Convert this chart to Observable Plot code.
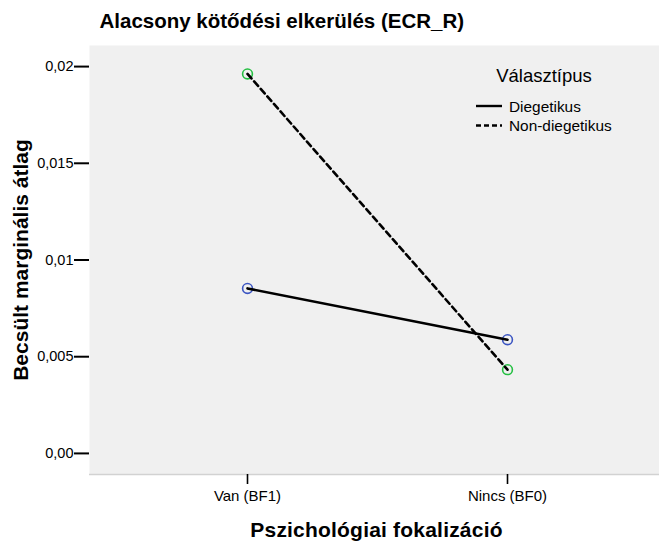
<!DOCTYPE html>
<html>
<head>
<meta charset="utf-8">
<script src="https://cdn.jsdelivr.net/npm/d3@7"></script>
<script src="https://cdn.jsdelivr.net/npm/@observablehq/plot@0.6"></script>
<style>
  body { margin: 0; background: #fff; font-family: "Liberation Sans", Arial, sans-serif; }
  #wrap { position: relative; width: 659px; height: 545px; }
  #legend { position: absolute; left: 0; top: 0; width: 659px; height: 545px; pointer-events: none; }
</style>
</head>
<body>
<div id="wrap"></div>
<script>
const title = "Alacsony kötődési elkerülés (ECR_R)";
const xLabel = "Pszichológiai fokalizáció";
const yLabel = "Becsült marginális átlag";
const legendTitle = "Választípus";
const categories = ["Van (BF1)", "Nincs (BF0)"];
const seriesNames = ["Diegetikus", "Non-diegetikus"];
const diegetikus = [0.00853, 0.00588];
const nonDiegetikus = [0.01962, 0.00433];
const yTicks = [0, 0.005, 0.01, 0.015, 0.02];
const yTickLabels = ["0,00", "0,005", "0,01", "0,015", "0,02"];
const yDomain = [-0.00109, 0.02109];
const seriesColors = ["#3b55c2", "#24bf42"];
const seriesDash = [null, "6,4"];

const rows = [];
categories.forEach((c, i) => {
  rows.push({cat: c, series: seriesNames[0], value: diegetikus[i]});
  rows.push({cat: c, series: seriesNames[1], value: nonDiegetikus[i]});
});

const font = "Liberation Sans, Arial, sans-serif";

const chart = Plot.plot({
  width: 659,
  height: 545,
  marginLeft: 89,
  marginRight: 0,
  marginTop: 45,
  marginBottom: 71,
  style: {fontFamily: font, background: "#fff", color: "#000"},
  x: {type: "point", domain: categories, range: [247, 507], padding: 0},
  y: {domain: yDomain},
  color: {domain: seriesNames, range: seriesColors},
  marks: [
    Plot.frame({fill: "#f0f0f0", stroke: null}),
    Plot.ruleY([yDomain[0]], {stroke: "#d2d2d2", strokeWidth: 1.5}),
    Plot.axisY({ticks: yTicks, tickFormat: (d) => yTickLabels[yTicks.indexOf(d)], tickSize: 15, tickPadding: 1, fontSize: 14.5, strokeWidth: 2, label: null}),
    Plot.axisX({ticks: categories, tickSize: 10, tickPadding: 6, fontSize: 15, strokeWidth: 1.6, label: null}),
    Plot.dot(rows, {x: "cat", y: "value", stroke: "series", r: 4.9, strokeWidth: 1.6, fill: "none"}),
    ...seriesNames.map((s, i) => Plot.line(rows.filter(d => d.series === s), {
      x: "cat", y: "value", stroke: "#000", strokeWidth: 2.6, strokeDasharray: seriesDash[i]
    })),
    Plot.text([title], {frameAnchor: "top-left", dx: 10, dy: -17.7, lineAnchor: "bottom", textAnchor: "start", fontSize: 20.5, fontWeight: "bold", fill: "#000"}),
    Plot.text([yLabel], {frameAnchor: "left", dx: -68.4, rotate: -90, textAnchor: "middle", fontSize: 21, fontWeight: "bold", fill: "#000"}),
    Plot.text([xLabel], {frameAnchor: "bottom", dx: 2, dy: 62, lineAnchor: "bottom", textAnchor: "middle", fontSize: 21, fontWeight: "bold", fill: "#000"})
  ]
});

d3.select(chart).selectAll("text").each(function() {
  if (this.textContent === xLabel) this.style.letterSpacing = "0.2px";
});

const wrap = document.getElementById("wrap");
wrap.appendChild(chart);

// Legend overlay
const ns = "http://www.w3.org/2000/svg";
const lg = document.createElementNS(ns, "svg");
lg.setAttribute("id", "legend");
lg.setAttribute("width", 659);
lg.setAttribute("height", 545);
const t = document.createElementNS(ns, "text");
t.setAttribute("x", 544); t.setAttribute("y", 82);
t.setAttribute("text-anchor", "middle");
t.setAttribute("font-size", 18.5);
t.setAttribute("font-family", font);
t.textContent = legendTitle;
lg.appendChild(t);
seriesNames.forEach((s, i) => {
  const y = 106 + i * 19.5;
  const l = document.createElementNS(ns, "line");
  l.setAttribute("x1", 476); l.setAttribute("x2", 502);
  l.setAttribute("y1", y); l.setAttribute("y2", y);
  l.setAttribute("stroke", "#000"); l.setAttribute("stroke-width", 2.4);
  if (seriesDash[i]) l.setAttribute("stroke-dasharray", "5,3");
  lg.appendChild(l);
  const tx = document.createElementNS(ns, "text");
  tx.setAttribute("x", 509); tx.setAttribute("y", y + 5.5);
  tx.setAttribute("font-size", 15.4);
  tx.setAttribute("font-family", font);
  tx.textContent = s;
  lg.appendChild(tx);
});
wrap.appendChild(lg);
</script>
</body>
</html>
